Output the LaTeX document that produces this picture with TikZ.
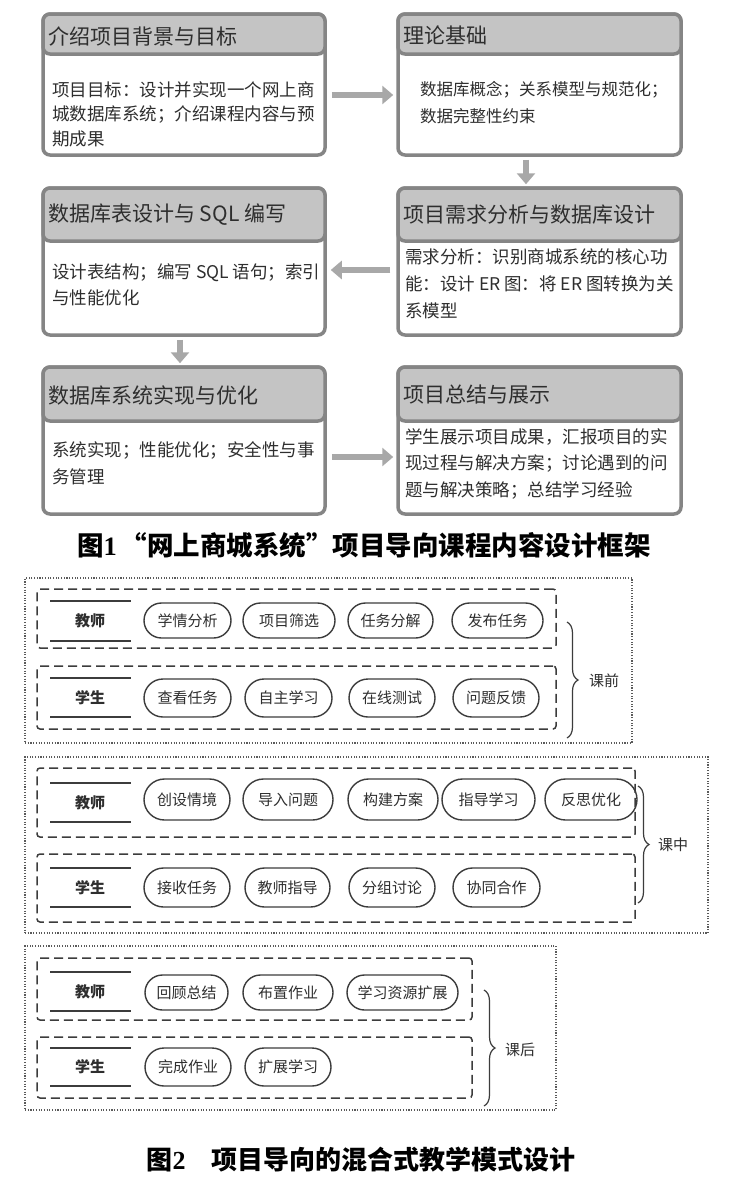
\documentclass[tikz,border=0pt]{standalone}
\usepackage{fontspec}
\setmainfont{Noto Sans CJK SC}
\newfontfamily\numfont{Liberation Serif}
\usetikzlibrary{shapes.misc,arrows.meta,decorations.pathreplacing,calc}
\definecolor{boxgray}{HTML}{858585}
\definecolor{headgray}{HTML}{C4C4C4}
\definecolor{arrowgray}{HTML}{A8A8A8}
\definecolor{linedark}{HTML}{3C3C3C}
\definecolor{dotgray}{HTML}{5A5A5A}
\definecolor{txtdark}{HTML}{2E2E2E}
\begin{document}
\begin{tikzpicture}[x=1pt,y=-1pt,
 bodybox/.style={draw=boxgray, line width=3.5pt, rounded corners=7pt, fill=white, inner sep=0pt},
 headbox/.style={draw=boxgray, line width=3.5pt, rounded corners=7pt, fill=headgray, inner sep=0pt},
 headtxt/.style={anchor=west, inner sep=0pt, text=txtdark, font=\fontsize{21}{25}\selectfont},
 bodytxt/.style={anchor=north west, inner sep=0pt, align=left, text=txtdark, font=\fontsize{17.5}{26}\selectfont},
 flowarrow/.style={draw=arrowgray, line width=6pt, -{Triangle[width=18pt,length=11pt]}},
 dotbox/.style={draw=dotgray, line width=1.1pt, dash pattern=on 1.1pt off 1.6pt, inner sep=0pt},
 dashbox/.style={draw=linedark, line width=1.5pt, dash pattern=on 9pt off 5pt, rounded corners=3pt, inner sep=0pt},
 pill/.style={rounded rectangle, draw=linedark, line width=1.4pt, inner sep=0pt, text=txtdark, font=\fontsize{15}{18}\selectfont},
 role/.style={inner sep=0pt, text=txtdark, font=\fontsize{15}{18}\selectfont\bfseries},
 roleline/.style={draw=linedark, line width=1.5pt},
 phase/.style={inner sep=0pt, text=txtdark, font=\fontsize{15}{18}\selectfont},
 bracestyle/.style={draw=linedark, line width=1.2pt, decorate, decoration={brace, amplitude=11pt}},
 caption/.style={inner sep=0pt, text=black, font=\fontsize{26.5}{30}\selectfont\bfseries}
]
\useasboundingbox (0,0) rectangle (729,1184);
\fill[white] (0,0) rectangle (729,1184);

% ---------------- Figure 1 ----------------
\node[bodybox, minimum width=282pt, minimum height=141pt] (b1) at (184,84.5) {};
\node[headbox, minimum width=282pt, minimum height=40pt] (h1) at (184,34) {};
\node[headtxt] (t1) at (48,36) {介绍项目背景与目标};
\node[bodytxt, font=\fontsize{17.5}{24.5}\selectfont] (c1) at (52,81) {项目目标：设计并实现一个网上商\\城数据库系统；介绍课程内容与预\\期成果};

\node[bodybox, minimum width=283pt, minimum height=141pt] (b2) at (539.5,84.5) {};
\node[headbox, minimum width=283pt, minimum height=40pt] (h2) at (539.5,34) {};
\node[headtxt] (t2) at (403,35) {理论基础};
\node[bodytxt, font=\fontsize{16.5}{27}\selectfont] (c2) at (420,81) {数据库概念；关系模型与规范化；\\数据完整性约束};

\node[bodybox, minimum width=282pt, minimum height=147pt] (b3) at (184,261.5) {};
\node[headbox, minimum width=282pt, minimum height=53pt] (h3) at (184,214.5) {};
\node[headtxt] (t3) at (48,215) {数据库表设计与 SQL 编写};
\node[bodytxt] (c3) at (52,263) {设计表结构；编写 SQL 语句；索引\\与性能优化};

\node[bodybox, minimum width=283pt, minimum height=147pt] (b4) at (539.5,261.5) {};
\node[headbox, minimum width=283pt, minimum height=53pt] (h4) at (539.5,214.5) {};
\node[headtxt] (t4) at (403,215) {项目需求分析与数据库设计};
\node[bodytxt, font=\fontsize{17.5}{27}\selectfont] (c4) at (405,249) {需求分析：识别商城系统的核心功\\能：设计 ER 图：将 ER 图转换为关\\系模型};

\node[bodybox, minimum width=282pt, minimum height=147pt] (b5) at (184,440.5) {};
\node[headbox, minimum width=282pt, minimum height=54pt] (h5) at (184,394) {};
\node[headtxt] (t5) at (48,395) {数据库系统实现与优化};
\node[bodytxt, font=\fontsize{17.5}{27}\selectfont] (c5) at (52,441) {系统实现；性能优化；安全性与事\\务管理};

\node[bodybox, minimum width=283pt, minimum height=147pt] (b6) at (539.5,440.5) {};
\node[headbox, minimum width=283pt, minimum height=54pt] (h6) at (539.5,394) {};
\node[headtxt] (t6) at (403,395) {项目总结与展示};
\node[bodytxt, font=\fontsize{17.5}{26.5}\selectfont] (c6) at (405,428) {学生展示项目成果，汇报项目的实\\现过程与解决方案；讨论遇到的问\\题与解决策略；总结学习经验};

\draw[flowarrow] ([xshift=5pt,yshift=-10.5pt]b1.east) -- ([xshift=-3pt,yshift=-10.5pt]b2.west);
\draw[flowarrow] ([xshift=-13.5pt,yshift=-3pt]b2.south) -- ([xshift=-13.5pt,yshift=2pt]b4.north);
\draw[flowarrow] ([xshift=-6pt,yshift=-8.5pt]b4.west) -- ([xshift=4pt,yshift=-8.5pt]b3.east);
\draw[flowarrow] ([xshift=-4pt,yshift=-3pt]b3.south) -- ([xshift=-4pt,yshift=2pt]b5.north);
\draw[flowarrow] ([xshift=5pt,yshift=-16.5pt]b5.east) -- ([xshift=-3pt,yshift=-16.5pt]b6.west);

\node[caption] (cap1) at (364,545) {图{\numfont 1}\hspace{4pt}“网上商城系统”项目导向课程内容设计框架};

% ---------------- Figure 2 ----------------
% Section A
\node[dotbox, minimum width=607pt, minimum height=165pt] (secA) at (328.5,660.5) {};
\node[dashbox, minimum width=519pt, minimum height=59pt] (tA) at (296.5,618.5) {};
\node[dashbox, minimum width=519pt, minimum height=63pt] (sA) at (296.5,697.5) {};
\node[role] (rtA) at (90,621) {教师};
\draw[roleline] ($(rtA)+(-40,-20)$) -- ($(rtA)+(41,-20)$);
\draw[roleline] ($(rtA)+(-40,20)$) -- ($(rtA)+(41,20)$);
\node[role] (rsA) at (90,698) {学生};
\draw[roleline] ($(rsA)+(-40,-20)$) -- ($(rsA)+(41,-20)$);
\draw[roleline] ($(rsA)+(-40,19)$) -- ($(rsA)+(41,19)$);
\node[pill, minimum width=87pt, minimum height=35pt] (pA1) at (187.5,620.5) {学情分析};
\node[pill, minimum width=92pt, minimum height=35pt] (pA2) at (289,620.5) {项目筛选};
\node[pill, minimum width=85pt, minimum height=35pt] (pA3) at (390.5,620.5) {任务分解};
\node[pill, minimum width=91pt, minimum height=35pt] (pA4) at (497.5,620.5) {发布任务};
\node[pill, minimum width=87pt, minimum height=38pt] (qA1) at (187.5,698) {查看任务};
\node[pill, minimum width=87pt, minimum height=38pt] (qA2) at (288.5,698) {自主学习};
\node[pill, minimum width=86pt, minimum height=38pt] (qA3) at (392,698) {在线测试};
\node[pill, minimum width=86pt, minimum height=38pt] (qA4) at (496,698) {问题反馈};
\coordinate (brA1) at (567,622);
\coordinate (brA2) at (567,738);
\draw[bracestyle] (brA1) -- (brA2);
\node[phase] (lA) at (604,681) {课前};

% Section B
\node[dotbox, minimum width=683pt, minimum height=176pt] (secB) at (366.5,845) {};
\node[dashbox, minimum width=598pt, minimum height=69pt] (tB) at (336,802.5) {};
\node[dashbox, minimum width=598pt, minimum height=68pt] (sB) at (336,888) {};
\node[role] (rtB) at (90,803) {教师};
\draw[roleline] ($(rtB)+(-40,-20)$) -- ($(rtB)+(41,-20)$);
\draw[roleline] ($(rtB)+(-40,19)$) -- ($(rtB)+(41,19)$);
\node[role] (rsB) at (90,888) {学生};
\draw[roleline] ($(rsB)+(-40,-20)$) -- ($(rsB)+(41,-20)$);
\draw[roleline] ($(rsB)+(-40,19)$) -- ($(rsB)+(41,19)$);
\node[pill, minimum width=86pt, minimum height=41pt] (pB1) at (187,799.5) {创设情境};
\node[pill, minimum width=90pt, minimum height=41pt] (pB2) at (288,799.5) {导入问题};
\node[pill, minimum width=90pt, minimum height=41pt] (pB3) at (393,799.5) {构建方案};
\node[pill, minimum width=93pt, minimum height=41pt] (pB4) at (488.5,799.5) {指导学习};
\node[pill, minimum width=92pt, minimum height=41pt] (pB5) at (591,799.5) {反思优化};
\node[pill, minimum width=86pt, minimum height=39pt] (qB1) at (187,887.5) {接收任务};
\node[pill, minimum width=85pt, minimum height=39pt] (qB2) at (287.5,887.5) {教师指导};
\node[pill, minimum width=86pt, minimum height=39pt] (qB3) at (392,887.5) {分组讨论};
\node[pill, minimum width=87pt, minimum height=39pt] (qB4) at (496.5,887.5) {协同合作};
\coordinate (brB1) at (638,786);
\coordinate (brB2) at (638,903);
\draw[bracestyle] (brB1) -- (brB2);
\node[phase] (lB) at (673,845) {课中};

% Section C
\node[dotbox, minimum width=531pt, minimum height=164pt] (secC) at (290.5,1028) {};
\node[dashbox, minimum width=435pt, minimum height=62pt] (tC) at (254.5,989) {};
\node[dashbox, minimum width=435pt, minimum height=61pt] (sC) at (254.5,1067.5) {};
\node[role] (rtC) at (90,992) {教师};
\draw[roleline] ($(rtC)+(-40,-20)$) -- ($(rtC)+(41,-20)$);
\draw[roleline] ($(rtC)+(-40,19)$) -- ($(rtC)+(41,19)$);
\node[role] (rsC) at (90,1067) {学生};
\draw[roleline] ($(rsC)+(-40,-19)$) -- ($(rsC)+(41,-19)$);
\draw[roleline] ($(rsC)+(-40,19)$) -- ($(rsC)+(41,19)$);
\node[pill, minimum width=83pt, minimum height=35pt] (pC1) at (186.5,992.5) {回顾总结};
\node[pill, minimum width=90pt, minimum height=35pt] (pC2) at (288,992.5) {布置作业};
\node[pill, minimum width=111pt, minimum height=35pt] (pC3) at (402.5,992.5) {学习资源扩展};
\node[pill, minimum width=86pt, minimum height=38pt] (qC1) at (188,1067) {完成作业};
\node[pill, minimum width=86pt, minimum height=38pt] (qC2) at (288,1067) {扩展学习};
\coordinate (brC1) at (484,990);
\coordinate (brC2) at (484,1106);
\draw[bracestyle] (brC1) -- (brC2);
\node[phase] (lC) at (520,1050) {课后};

\node[caption, font=\fontsize{26}{30}\selectfont\bfseries] (cap2) at (361,1160) {图{\numfont 2}\hspace{26pt}项目导向的混合式教学模式设计};
\end{tikzpicture}
\end{document}
